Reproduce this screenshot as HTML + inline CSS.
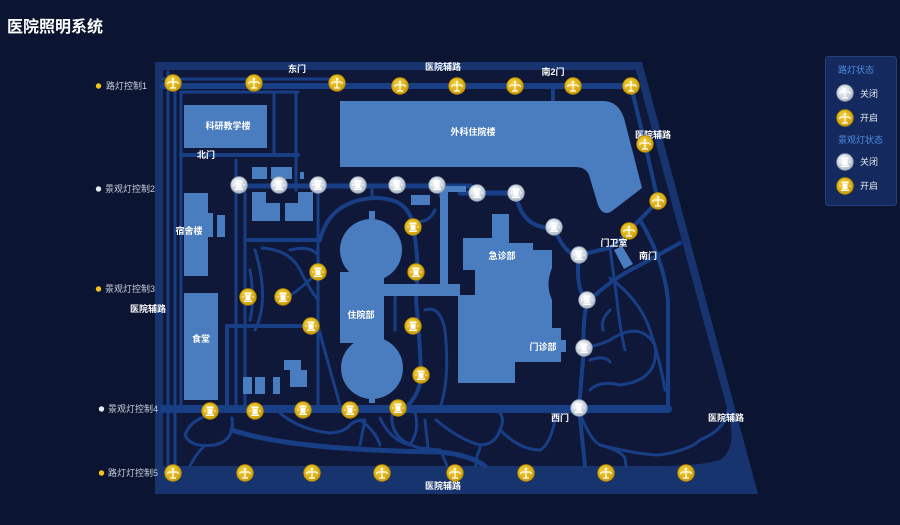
<!DOCTYPE html>
<html><head><meta charset="utf-8">
<style>
html,body{margin:0;padding:0;background:#0b1430;width:900px;height:525px;overflow:hidden}
svg{display:block}
text{font-family:"Liberation Sans","Noto Sans CJK SC",sans-serif}
</style></head><body>
<svg width="900" height="525" viewBox="0 0 900 525" xmlns="http://www.w3.org/2000/svg">
<defs>
<radialGradient id="gy" cx="40%" cy="35%" r="70%"><stop offset="0" stop-color="#f6d23a"/><stop offset="1" stop-color="#c99a06"/></radialGradient>
<radialGradient id="gw" cx="40%" cy="35%" r="70%"><stop offset="0" stop-color="#ffffff"/><stop offset="1" stop-color="#a9b6c6"/></radialGradient>
<symbol id="ry" viewBox="-9 -9 18 18"><circle r="8.3" fill="url(#gy)" stroke="#b58a00" stroke-width="0.8"/><path d="M-4.5,-1 L4.5,-1 M0,-4 L0,5 M-3,5 L3,5 M-4.5,-1 l-1,2 M4.5,-1 l1,2" stroke="#fff" stroke-width="1.2" fill="none"/><circle cy="-4" r="1.2" fill="#fff"/></symbol>
<symbol id="rw" viewBox="-9 -9 18 18"><circle r="8.3" fill="url(#gw)" stroke="#8e9cb0" stroke-width="0.8"/><path d="M-4.5,-1 L4.5,-1 M0,-4 L0,5 M-3,5 L3,5 M-4.5,-1 l-1,2 M4.5,-1 l1,2" stroke="#fff" stroke-width="1.2" fill="none"/><circle cy="-4" r="1.2" fill="#fff"/></symbol>
<symbol id="ly" viewBox="-9 -9 18 18"><circle r="8.3" fill="url(#gy)" stroke="#b58a00" stroke-width="0.8"/><rect x="-3.5" y="-4.5" width="7" height="2" fill="#fff"/><rect x="-2.5" y="-2" width="5" height="5" fill="#fff"/><rect x="-4" y="3.5" width="8" height="1.5" fill="#fff"/><path d="M-6,0 h2 M4,0 h2" stroke="#fff" stroke-width="0.8"/></symbol>
<symbol id="lw" viewBox="-9 -9 18 18"><circle r="8.3" fill="url(#gw)" stroke="#8e9cb0" stroke-width="0.8"/><rect x="-3.5" y="-4.5" width="7" height="2" fill="#fff"/><rect x="-2.5" y="-2" width="5" height="5" fill="#fff"/><rect x="-4" y="3.5" width="8" height="1.5" fill="#fff"/><path d="M-6,0 h2 M4,0 h2" stroke="#fff" stroke-width="0.8"/></symbol>
</defs>

<text x="7" y="32" fill="#ffffff" font-size="16" font-weight="bold">医院照明系统</text>

<polygon points="155,62 642,62 758,494 155,494" fill="#17346f"/>
<path d="M163,70 L636,70 L728,412 Q738,448 720,460 Q700,466 660,466 L163,466 Z" fill="#0f1838"/>

<g fill="none" stroke="#183e86" stroke-linecap="round" stroke-linejoin="round">
<path d="M163,79 H337" stroke-width="3"/>
<path d="M163,86 H632" stroke-width="6"/>
<path d="M337,79 V90" stroke-width="3"/>
<path d="M553,86 V101" stroke-width="4"/>
<path d="M168,72 V466" stroke-width="3"/>
<path d="M175,80 V466" stroke-width="3"/>
<path d="M181,92 V405" stroke-width="3"/>
<path d="M181,92 H298" stroke-width="3"/>
<path d="M181,155 H298" stroke-width="4"/>
<path d="M274,92 V155" stroke-width="3"/>
<path d="M296,92 V190" stroke-width="3"/>
<path d="M236,160 V405" stroke-width="3"/>
<path d="M245,186 V405" stroke-width="3"/>
<path d="M236,186 H470" stroke-width="5"/>
<path d="M460,193 H520" stroke-width="5"/>
<path d="M440,186 V196" stroke-width="3"/>
<path d="M245,240 H320" stroke-width="4"/>
<path d="M318,186 V405" stroke-width="3"/>
<path d="M227,326 H318" stroke-width="4"/>
<path d="M227,326 V405" stroke-width="4"/>
<path d="M255,250 Q270,300 255,330 M262,248 Q290,250 300,270 Q310,290 318,300 M290,250 Q310,245 318,255 M250,270 Q255,300 250,320" stroke-width="3"/>
<path d="M318,272 Q300,290 283,300" stroke-width="3"/>
<path d="M318,326 Q330,370 340,405" stroke-width="3"/>
<path d="M320,240 Q330,200 375,198 Q410,198 413,227 Q420,260 416,300 Q420,340 421,375 Q420,395 405,408" stroke-width="4"/>
<path d="M372,188 V198" stroke-width="3"/>
<path d="M416,222 Q430,222 435,210" stroke-width="3"/>
<path d="M425,310 Q440,305 445,330 Q450,380 440,408" stroke-width="3"/>
<path d="M406,290 Q395,290 395,300 V330" stroke-width="3"/>
<path d="M163,409 H668" stroke-width="8"/>
<path d="M668,409 V300 Q664,260 640,220" stroke-width="4"/>
<path d="M516,193 Q520,225 548,228 L554,228 Q565,255 579,256 Q590,252 610,248 Q620,240 629,231 L658,201 L645,144 L631,86" stroke-width="4"/>
<path d="M579,256 Q575,290 587,300 Q582,330 584,348 L579,408 L585,466" stroke-width="4"/>
<path d="M610,248 L617,300 Q620,330 625,350" stroke-width="3"/>
<path d="M590,300 Q610,280 640,265 L680,243" stroke-width="4"/>
<path d="M610,278 Q640,300 650,330 Q660,360 665,390" stroke-width="3"/>
<path d="M584,348 Q600,345 610,340 Q640,320 655,345 Q660,380 620,385 Q600,380 590,390" stroke-width="3"/>
<path d="M590,360 Q605,355 610,362 M603,330 Q600,320 610,310" stroke-width="3"/>
<path d="M210,415 Q190,420 185,435 Q190,448 215,445 Q235,440 232,418" stroke-width="3"/>
<path d="M232,430 Q290,450 440,452 Q470,455 485,466" stroke-width="5"/>
<path d="M205,445 Q195,455 190,466" stroke-width="3"/>
<path d="M280,413 Q300,430 330,433 Q345,432 350,425 Q355,420 365,420 L360,445" stroke-width="3"/>
<path d="M360,420 Q375,430 380,445 M380,418 Q390,440 410,445 Q420,430 415,413" stroke-width="3"/>
<path d="M392,415 Q390,440 420,448 L440,450 Q445,460 447,466 M425,420 L428,448" stroke-width="3"/>
<path d="M436,420 Q460,440 480,445 Q495,445 500,430 Q505,420 500,413" stroke-width="3"/>
<path d="M500,430 Q520,450 540,450 Q550,445 555,420 Q560,413 563,413" stroke-width="3"/>
<path d="M480,448 Q475,460 476,466 M580,413 Q590,440 600,445 Q620,450 625,458 L626,466" stroke-width="3"/>
<path d="M600,445 Q640,455 660,455 Q690,450 700,440 Q725,430 728,410" stroke-width="3"/>
</g>

<g fill="#4a7cc0">
<rect x="184" y="105" width="83" height="43"/>
<path d="M340,101 H603 Q618,101 624,118 L642,188 L612,211 Q603,217 598,205 L589,175 Q586,167 575,167 H340 Z"/>
<rect x="184" y="193" width="24" height="83"/>
<rect x="205" y="213" width="8" height="24"/>
<rect x="217" y="215" width="8" height="22"/>
<rect x="184" y="293" width="34" height="107"/>
<rect x="252" y="167" width="15" height="12"/>
<rect x="271" y="167" width="21" height="12"/>
<rect x="300" y="172" width="4" height="7"/>
<path d="M252,192 H266 V203 H280 V221 H252 Z"/>
<path d="M298,192 H313 V221 H285 V203 H298 Z"/>
<rect x="411" y="195" width="19" height="10"/>
<rect x="448" y="186" width="18" height="6"/>
<rect x="440" y="186" width="8" height="100"/>
<circle cx="371" cy="250" r="31"/>
<rect x="369" y="211" width="6" height="10"/>
<rect x="340" y="272" width="44" height="71"/>
<circle cx="372" cy="368" r="31"/>
<rect x="369" y="395" width="6" height="8"/>
<rect x="340" y="284" width="120" height="12"/>
<path d="M492,214 H509 V243 H533 V250 H552 V268 Q545,285 552,300 V328 H561 V340 H566 V352 H561 V362 H515 V383 H458 V295 H475 V270 H463 V238 H492 Z"/>
<path d="M614,250 L622,246 L633,264 L624,269 Z"/>
<rect x="243" y="377" width="9" height="17"/>
<rect x="255" y="377" width="10" height="17"/>
<rect x="273" y="377" width="7" height="17"/>
<path d="M284,360 H301 V370 H307 V387 H290 V370 H284 Z"/>
</g>

<g fill="#ffffff" font-size="9" font-weight="bold" text-anchor="middle">
<text x="297" y="72">东门</text>
<text x="443" y="70">医院辅路</text>
<text x="553" y="75">南2门</text>
<text x="228" y="129">科研教学楼</text>
<text x="473" y="135">外科住院楼</text>
<text x="653" y="138">医院辅路</text>
<text x="206" y="158">北门</text>
<text x="189" y="234">宿舍楼</text>
<text x="502" y="259">急诊部</text>
<text x="614" y="246">门卫室</text>
<text x="648" y="259">南门</text>
<text x="148" y="312">医院辅路</text>
<text x="201" y="342">食堂</text>
<text x="361" y="318">住院部</text>
<text x="543" y="350">门诊部</text>
<text x="560" y="421">西门</text>
<text x="726" y="421">医院辅路</text>
<text x="443" y="489">医院辅路</text>
</g>

<g font-size="9" fill="#c8cfdc">
<circle cx="98.5" cy="86" r="2.7" fill="#f2c318"/><text x="106" y="89">路灯控制1</text>
<circle cx="98.5" cy="189" r="2.7" fill="#e6e9ef"/><text x="105" y="192">景观灯控制2</text>
<circle cx="98.5" cy="289" r="2.7" fill="#f2c318"/><text x="105" y="292">景观灯控制3</text>
<circle cx="101.5" cy="409" r="2.7" fill="#e6e9ef"/><text x="108" y="412">景观灯控制4</text>
<circle cx="101.5" cy="473" r="2.7" fill="#f2c318"/><text x="108" y="476">路灯灯控制5</text>
</g>

<g>
<use href="#ry" x="164" y="74" width="18" height="18"/>
<use href="#ry" x="245" y="74" width="18" height="18"/>
<use href="#ry" x="328" y="74" width="18" height="18"/>
<use href="#ry" x="391" y="77" width="18" height="18"/>
<use href="#ry" x="448" y="77" width="18" height="18"/>
<use href="#ry" x="506" y="77" width="18" height="18"/>
<use href="#ry" x="564" y="77" width="18" height="18"/>
<use href="#ry" x="622" y="77" width="18" height="18"/>
<use href="#ry" x="636" y="135" width="18" height="18"/>
<use href="#ry" x="649" y="192" width="18" height="18"/>
<use href="#ry" x="620" y="222" width="18" height="18"/>
<use href="#ry" x="164" y="464" width="18" height="18"/>
<use href="#ry" x="236" y="464" width="18" height="18"/>
<use href="#ry" x="303" y="464" width="18" height="18"/>
<use href="#ry" x="373" y="464" width="18" height="18"/>
<use href="#ry" x="446" y="464" width="18" height="18"/>
<use href="#ry" x="517" y="464" width="18" height="18"/>
<use href="#ry" x="597" y="464" width="18" height="18"/>
<use href="#ry" x="677" y="464" width="18" height="18"/>
</g>
<g>
<use href="#lw" x="230" y="176" width="18" height="18"/>
<use href="#lw" x="270" y="176" width="18" height="18"/>
<use href="#lw" x="309" y="176" width="18" height="18"/>
<use href="#lw" x="349" y="176" width="18" height="18"/>
<use href="#lw" x="388" y="176" width="18" height="18"/>
<use href="#lw" x="428" y="176" width="18" height="18"/>
<use href="#lw" x="468" y="184" width="18" height="18"/>
<use href="#lw" x="507" y="184" width="18" height="18"/>
<use href="#lw" x="545" y="218" width="18" height="18"/>
<use href="#lw" x="570" y="246" width="18" height="18"/>
<use href="#lw" x="578" y="291" width="18" height="18"/>
<use href="#lw" x="575" y="339" width="18" height="18"/>
<use href="#lw" x="570" y="399" width="18" height="18"/>
</g>
<g>
<use href="#ly" x="404" y="218" width="18" height="18"/>
<use href="#ly" x="309" y="263" width="18" height="18"/>
<use href="#ly" x="407" y="263" width="18" height="18"/>
<use href="#ly" x="239" y="288" width="18" height="18"/>
<use href="#ly" x="274" y="288" width="18" height="18"/>
<use href="#ly" x="302" y="317" width="18" height="18"/>
<use href="#ly" x="404" y="317" width="18" height="18"/>
<use href="#ly" x="412" y="366" width="18" height="18"/>
<use href="#ly" x="201" y="402" width="18" height="18"/>
<use href="#ly" x="246" y="402" width="18" height="18"/>
<use href="#ly" x="294" y="401" width="18" height="18"/>
<use href="#ly" x="341" y="401" width="18" height="18"/>
<use href="#ly" x="389" y="399" width="18" height="18"/>
</g>

<rect x="825.5" y="56.5" width="71" height="149" rx="3" fill="#142a5e" stroke="#22427e"/>
<g font-size="9">
<text x="838" y="73" fill="#4d8be0">路灯状态</text>
<use href="#rw" x="836" y="84" width="18" height="18"/>
<text x="860" y="97" fill="#e6eaf2">关闭</text>
<use href="#ry" x="836" y="109" width="18" height="18"/>
<text x="860" y="121" fill="#e6eaf2">开启</text>
<text x="838" y="143" fill="#4d8be0">景观灯状态</text>
<use href="#lw" x="836" y="153" width="18" height="18"/>
<text x="860" y="165" fill="#e6eaf2">关闭</text>
<use href="#ly" x="836" y="177" width="18" height="18"/>
<text x="860" y="189" fill="#e6eaf2">开启</text>
</g>
</svg>
</body></html>
